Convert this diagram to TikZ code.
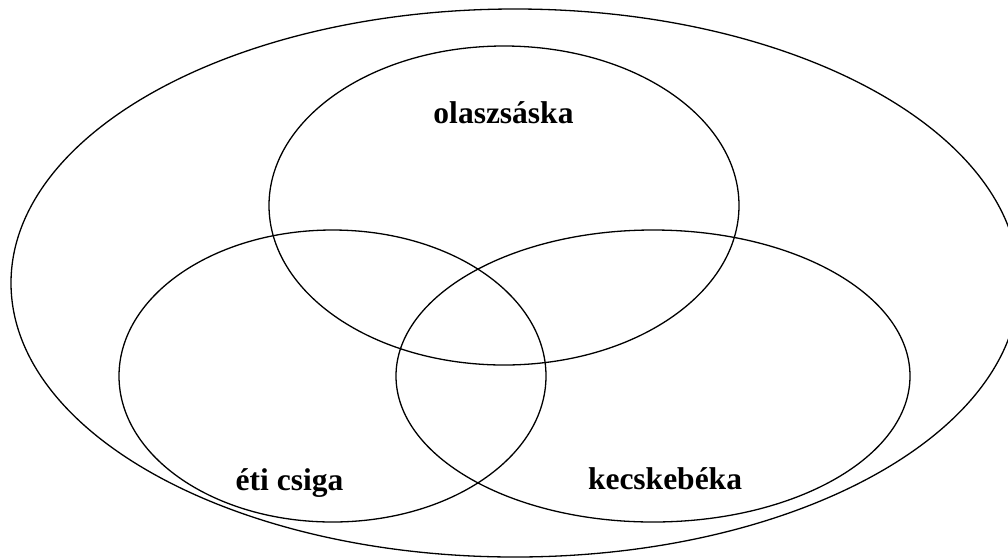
\documentclass[tikz,border=0pt]{standalone}
\usepackage{fontspec}
\setmainfont{Liberation Serif}
\usetikzlibrary{shapes.geometric}
\tikzset{
  vset/.style={ellipse, draw=black, line width=1.3pt, inner sep=0pt},
  vlab/.style={anchor=base, inner sep=0pt, font=\fontsize{31.5}{36}\selectfont\bfseries},
}

\begin{document}
\begin{tikzpicture}[x=1pt, y=-1pt]
  \useasboundingbox (0,0) rectangle (1008,558);
  % outer set and the three sets inside it
  \node[vset, minimum width=1008pt, minimum height=548pt] (all) at (515,283) {};
  \node[vset, minimum width=470pt, minimum height=319pt] (olasz) at (504,205.5) {};
  \node[vset, minimum width=427pt, minimum height=292pt] (csiga) at (332.5,376) {};
  \node[vset, minimum width=514pt, minimum height=292pt] (beka) at (653,376) {};
  % names
  \node[vlab] (olaszlab) at (503.5,123) {olaszsáska};
  \node[vlab] (csigalab) at (289.5,490) {éti csiga};
  \node[vlab] (bekalab) at (665,489) {kecskebéka};
\end{tikzpicture}
\end{document}
